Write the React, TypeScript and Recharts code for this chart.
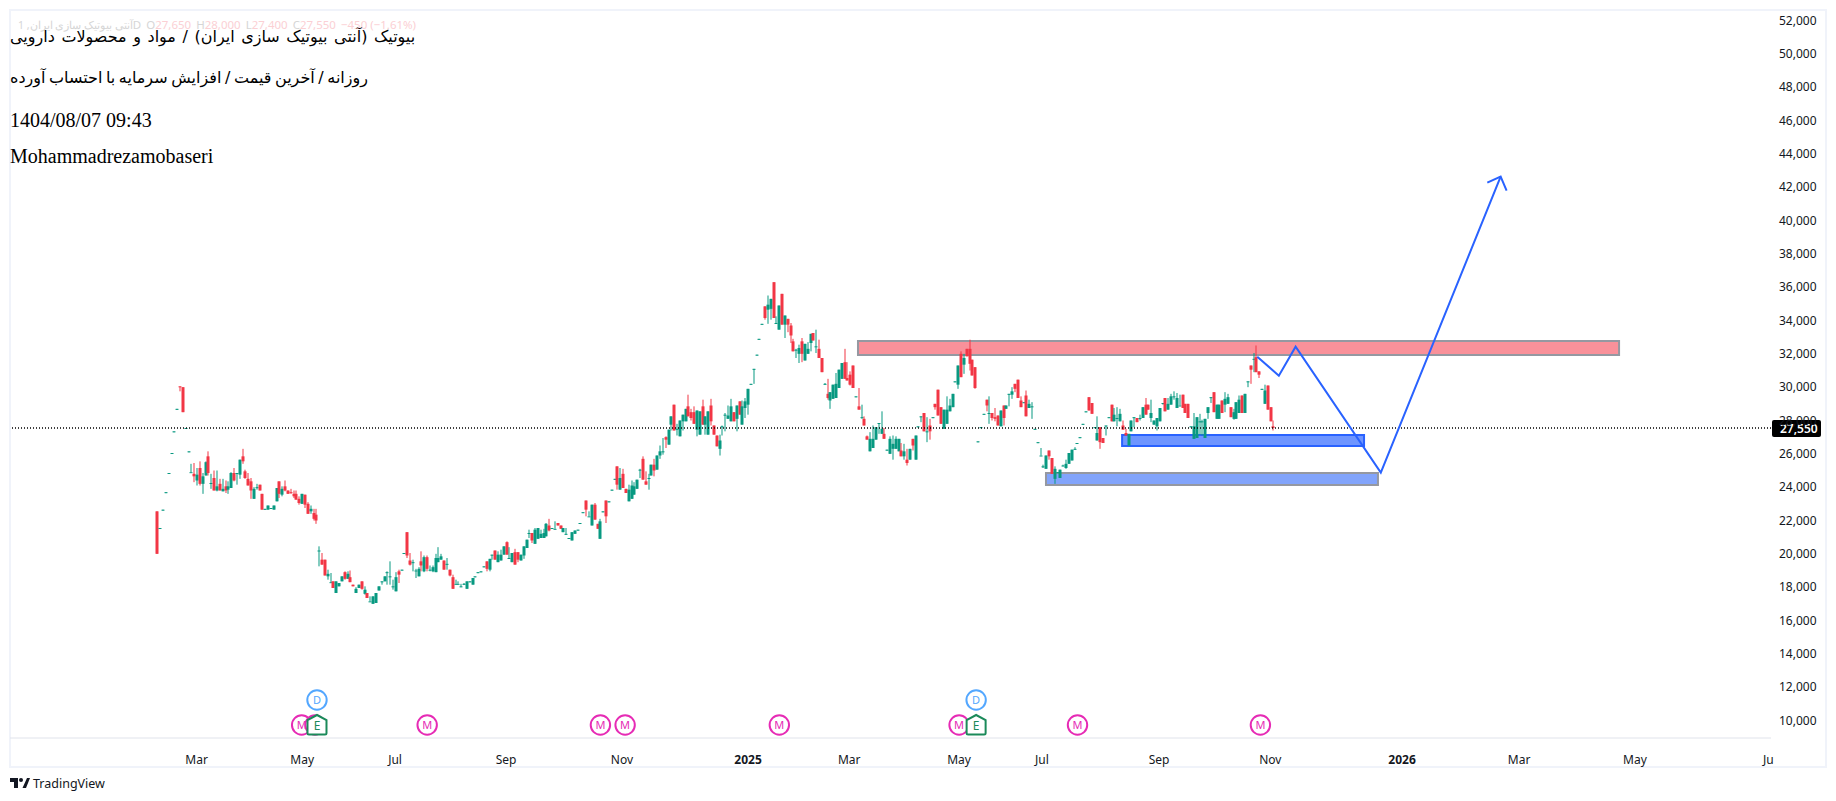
import React from "react";
import {
  ComposedChart,
  Bar,
  Line,
  XAxis,
  YAxis,
  ReferenceArea,
  ReferenceLine,
  ReferenceDot,
} from "recharts";

const opens = [
  22550,21550,22650,23700,24850,26050,27350,28700,30050,30000,
  27550,26150,24900,24800,24400,25150,24200,24700,25850,24250,
  24550,23800,24200,23750,24050,23850,23950,24850,24850,24750,
  25850,24950,24500,24350,23300,24000,24150,23600,22700,22650,
  22750,22650,23150,24350,23550,24050,23800,23700,23600,23600,
  23300,23000,23550,23000,22550,22450,22350,20200,19650,19650,
  18650,18300,18350,17650,18050,18350,18900,18500,18600,18150,
  17650,17950,18350,17600,17650,17150,17000,17050,17800,18350,
  18350,18900,18650,18050,17750,18950,19050,20050,21300,19600,
  19500,19000,18650,19550,18950,19800,19050,18950,18900,19500,
  19650,19600,19400,19050,18600,18200,18200,18050,18200,17900,
  18350,18150,18650,18900,18950,19250,19550,19050,19950,20200,
  19500,19600,19950,20700,19750,19500,20100,20100,19600,19900,
  20350,21250,21250,20600,20900,20950,20950,21050,21700,21550,
  21500,21850,21700,21300,21200,20950,20800,21200,21450,21850,
  22500,23200,22250,21700,22950,21800,20900,22550,23200,23150,
  23850,24500,25250,23850,24800,23900,23150,23300,23550,23900,
  25050,25700,24350,24550,24700,25350,25050,25900,26100,27000,
  26550,27750,28950,27500,27050,27950,27950,28850,28500,28500,
  27450,27150,28850,27750,27150,28900,27700,27100,26300,27650,
  28350,28100,27950,28500,28100,29150,27750,28750,28950,30200,
  31100,31950,32900,33800,34850,34650,34700,36300,33850,33450,
  35600,33750,34100,33700,32750,32250,32000,32750,31600,32000,
  32650,33250,32450,32300,31750,30200,29600,29200,29300,29350,
  29950,30500,31500,30550,30750,31300,29450,28850,28200,28100,
  27050,26150,26350,26850,27850,27200,27200,26250,26000,26300,
  26300,26150,26200,25850,25650,25650,26900,25650,27650,28250,
  28450,27350,27700,28200,29000,29850,28800,27500,27800,28550,
  28800,30350,30150,32000,31350,32300,32300,31650,31200,26750,
  27600,28400,29250,28450,28450,28200,28300,27650,28900,28700,
  29600,29550,30200,30450,29200,29100,29500,28750,28850,27500,
  26700,25900,25250,25100,26200,25750,24500,24900,24550,25300,
  25150,25400,25600,26300,26650,27000,27800,28550,29400,29050,
  27600,26800,27600,26950,27700,28200,28950,27950,28150,27950,
  27700,27250,26500,27350,28200,28150,28150,28150,28950,28950,
  28150,27750,27650,27950,29050,29350,28650,28950,29450,28750,
  28900,29550,29000,29000,27650,26900,26950,27950,27950,26950,
  28450,29400,29700,28100,28100,29200,28950,29000,28800,28100,
  28100,28450,29500,28450,30350,31300,31700,31800,30950,29900,
  29000,30100,28800,27650,
];

const closes = [
  20000,21550,22650,23700,24850,26050,27350,28700,30000,28500,
  27550,26150,24900,24650,24750,24200,24650,25500,24850,24250,
  23800,24050,23800,23900,23800,24050,24850,24400,24850,25650,
  25550,24550,24100,23800,23900,24000,23800,22650,22700,22900,
  22750,22900,23950,23600,23900,23800,23600,23650,23450,23250,
  23050,23600,22950,22400,22700,22100,22000,20200,19350,18700,
  18800,18300,17950,18350,18250,18650,18500,18800,18300,18050,
  17900,18150,17900,17850,17350,17150,17450,17650,18050,18350,
  18650,18900,18650,18050,18600,18750,19050,20050,19900,19350,
  19500,19000,19100,19300,19800,19100,19050,19200,19750,19750,
  19850,19050,19400,18700,17900,18200,18200,18050,18200,18350,
  18350,18550,18650,18900,18950,19250,19100,19700,19950,19650,
  19950,19950,20450,19950,19750,20050,19350,19650,19950,20450,
  20850,21250,20800,21450,21550,21200,21250,21800,21400,21550,
  21500,21700,21500,21550,21200,20950,21300,21400,21450,21850,
  22500,22650,22250,22950,22050,21500,21950,22550,22250,23150,
  23850,24500,24150,24550,23950,23650,23850,24100,24050,24450,
  25050,24450,24150,24550,25350,25000,25900,26150,26150,26850,
  27450,28250,27400,27500,28000,28350,28700,28250,28150,27800,
  28600,28550,27750,28250,28550,27950,27150,26450,26800,27650,
  28350,28300,28850,27950,28900,28350,28850,29150,29900,30200,
  31100,31950,32900,33800,34150,34950,35300,34150,33850,34900,
  33750,34300,33750,33100,32150,32250,32350,32000,32600,32300,
  33200,32800,32450,31750,30900,30200,29350,29700,30150,30200,
  31050,31450,30500,30400,30150,29950,29450,28650,28200,27700,
  26850,26900,26900,27600,27850,27500,26900,26250,26900,26600,
  26900,26900,25850,26150,25450,26300,26500,27100,27650,28250,
  27350,27350,27350,28200,28800,28300,27800,28650,28650,28900,
  29600,30350,31300,30600,31750,31850,31400,30700,29950,26750,
  27600,28400,28900,28450,28150,28100,27700,28600,28150,28900,
  29600,29750,29900,29350,28800,29100,28250,29000,28850,27500,
  26700,25900,25250,25900,25850,24800,25100,24900,25050,25300,
  25400,26050,26250,26300,26650,27000,27800,28550,28600,28400,
  27600,27250,26700,26650,27700,28200,27950,28350,28150,28400,
  27450,27100,27200,28000,28200,27900,28150,28800,28350,28650,
  28450,28000,28150,28750,29050,28550,29000,29450,29450,29350,
  28900,28750,28450,28150,27650,27650,28200,27950,27950,28100,
  28800,29400,28500,28950,28950,28450,29300,29400,28200,28500,
  29100,29250,28450,29600,30350,31050,31700,30900,30750,29900,
  29800,28650,27950,27550,
];

const highs = [
  22550,21550,22650,23700,24850,26050,27350,28700,30050,30000,
  27550,26150,25400,25450,25150,25550,24850,25550,26150,24800,
  25000,25000,24500,24500,24400,24350,24900,25150,24850,25650,
  26300,25050,24850,24550,24000,24200,24150,23600,22700,22900,
  22750,22900,23950,24350,24050,24400,23800,23900,23800,23800,
  23450,23600,23550,23100,22900,22700,22700,20450,20050,19650,
  19050,18850,18350,18350,18250,18650,18950,18950,19000,18150,
  18000,18150,18350,18050,17650,17450,17450,17650,18050,18350,
  18650,18950,19550,18450,18900,19050,19050,20050,21300,20050,
  19650,19100,19200,20150,19900,19900,19300,19300,20000,20400,
  20000,19600,19750,19050,18750,18450,18350,18200,18250,18350,
  18350,18550,18650,18900,18950,19250,19550,19700,19950,20200,
  20150,20250,20450,20750,20400,20050,20300,20100,19950,20450,
  20850,21450,21250,21550,21550,21450,21500,21850,22100,21550,
  21950,21850,21700,21550,21550,20950,21300,21400,21450,21850,
  22500,23200,22550,22950,23050,21800,22100,22550,23200,23150,
  23850,24500,25250,25150,25100,23900,24150,24400,24300,24450,
  25100,25850,24950,24800,25350,25700,25900,26500,26950,27050,
  27450,28250,28950,27800,28000,28350,28700,29550,28700,28850,
  28600,28550,29250,28250,28550,29300,27700,27100,27150,27700,
  28450,28900,29300,28500,28900,29150,29200,29350,29900,30200,
  31100,31950,32900,33800,34850,35500,35300,36300,34250,34900,
  35600,34300,34100,33850,32900,32300,32550,32950,32600,32700,
  33200,33250,33450,32850,31750,30250,30500,29700,30150,30850,
  31050,31450,32300,31500,30950,31300,29450,29950,28950,28250,
  27100,27300,27700,27600,27850,28550,27550,26250,27050,27100,
  27050,26900,26650,26600,26300,26300,26900,27100,27650,28250,
  28450,28200,28100,28200,29000,29850,28800,28650,29450,29300,
  29600,30350,31300,32150,32000,32300,32850,31650,31200,26750,
  27600,28400,29250,29450,28450,28750,28300,28600,28900,28900,
  29600,30000,30200,30450,29450,29100,29800,29250,29100,27500,
  26700,26350,25350,25900,26200,25750,25250,24900,25050,25350,
  25650,26050,26250,26400,26650,27000,27800,28550,29400,29050,
  27600,28250,27600,26950,27700,28200,28950,28750,28800,28700,
  28000,27500,27200,28000,28200,28150,28350,28800,29350,28950,
  29250,28000,28150,28750,29050,29350,29350,29600,29750,29650,
  29550,29550,29000,29000,27650,28450,28200,28400,28050,28100,
  28800,29400,29700,28950,28950,29200,29700,29600,28800,28700,
  29100,29500,29500,29600,30350,31300,32050,32500,30950,29900,
  30150,30100,28800,28000,
];

const lows = [
  20000,21550,22650,23700,24850,26050,27350,28700,29750,28500,
  27550,26150,24900,24300,24100,24100,23600,24700,24700,23900,
  23800,23750,23800,23750,23650,23600,23950,24350,24150,24500,
  25400,24500,24100,23300,23300,23850,23800,22650,22700,22650,
  22750,22650,23150,23350,23450,23750,23600,23600,23350,23250,
  22950,23000,22750,22400,22400,22000,21800,19250,19350,18700,
  18450,18300,17950,17650,18050,18350,18450,18500,18300,18050,
  17650,17950,17850,17550,17350,17150,17000,17050,17800,18150,
  18350,18150,18150,17850,17750,18250,19050,20050,19750,19300,
  18950,18550,18650,18950,18900,18950,18950,18900,18900,19500,
  19650,19050,19050,18650,17900,18200,18200,18000,18150,17900,
  18350,18150,18650,18900,18950,19250,18950,18950,19650,19650,
  19500,19600,19950,19950,19700,19500,19350,19500,19600,19700,
  20350,20950,20650,20600,20900,20950,20950,21050,21350,21550,
  21500,21700,21500,21300,21150,20950,20800,21200,21450,21850,
  22500,22250,22250,21700,22050,21500,20900,22550,21850,23150,
  23850,24500,23850,23850,23950,23650,23150,23300,23550,23900,
  24550,24450,24150,23850,24700,24650,25050,25700,25950,26350,
  26550,27400,27400,27100,27050,27400,27950,28250,28000,27800,
  27050,27150,27750,27150,27150,27700,27150,26450,25900,27100,
  27350,28100,27950,27950,27350,28350,27750,28150,28350,30200,
  30200,31950,32900,33800,34050,33800,34050,34150,33800,33450,
  33750,32950,33300,32650,32150,31750,31450,31500,31600,32000,
  32150,32800,32050,31750,30900,30150,29250,28700,29300,29350,
  29950,30500,30500,30400,30100,29950,29450,28650,28100,27700,
  26850,26150,26350,26850,27200,27200,26900,26250,26000,25650,
  26300,26150,25850,25650,25300,25650,26200,25650,27650,27900,
  27350,26700,26850,28200,28650,28300,27800,27500,27800,28550,
  28800,30350,29900,30600,30800,31850,31000,30700,29900,26750,
  27600,28400,28550,27800,28000,27950,27700,27650,27700,28700,
  28850,29300,29700,29350,28800,29100,28250,28750,28100,27500,
  26700,25900,25150,25100,25650,24800,24200,24900,24550,25250,
  25100,25400,25600,26250,26650,27000,27800,28550,28600,28400,
  27600,26800,26300,26650,27100,28200,27950,27950,27650,27950,
  27450,27100,26500,27350,27600,27900,28000,28150,28350,28650,
  27900,27750,27400,27950,28950,28550,28650,28950,29250,28750,
  28900,28750,28450,28150,27650,26900,26950,27150,27100,26950,
  28100,29050,28500,28100,28100,28450,28500,29000,28200,28050,
  28100,28450,28450,28450,30000,30200,30900,30900,30550,29900,
  29000,28650,27950,27400,
];

const priceTicks = [
  10000, 12000, 14000, 16000, 18000, 20000, 22000, 24000, 26000, 28000, 30000,
  32000, 34000, 36000, 38000, 40000, 42000, 44000, 46000, 48000, 50000, 52000,
];
const monthTicks = [13.8, 51, 83.7, 122.8, 163.6, 208, 243.6, 282.3, 311.5, 352.7, 391.9, 438.3, 479.5, 520.3, 567.3];
const monthNames = ["Mar", "May", "Jul", "Sep", "Nov", "2025", "Mar", "May", "Jul", "Sep", "Nov", "2026", "Mar", "May", "Ju"];

const lastPrice = 27550;

// drawn zones: [left bar, right bar, low, high]
const resistanceZone = [246.7, 514.7, 31930, 32770];
const supportZone = [339.7, 424.9, 26470, 27130];
const lowerZone = [312.9, 429.8, 24130, 24850];

const forecastBars = [387.3, 394.9, 400.8, 430.8, 473];
const forecastPrices = [31830, 30690, 32430, 24870, 42630];
const arrowBars = [468.3, 473, 475.1];
const arrowPrices = [42270, 42630, 41790];

const mEvents = [50.8, 55.5, 95, 156, 164.7, 219, 282.3, 324, 388.4];
const dEvents = [56.2, 288.3];
const eEvents = [56.2, 288.3];

const candles = opens.map((o, i) => ({
  i,
  o,
  h: highs[i],
  l: lows[i],
  c: closes[i],
  range: [lows[i], highs[i]],
}));
const forecast = forecastBars.map((i, n) => ({ i, path: forecastPrices[n] }));
const arrow = arrowBars.map((i, n) => ({ i, head: arrowPrices[n] }));

const UP = "#089981";
const DOWN = "#f23645";
const BLUE = "#2962ff";
const GRAY = "#9598a1";
const INK = "#131722";
const FONT = "'Noto Sans', sans-serif";

const Candle = (props: any) => {
  const { x, y, width, height, payload } = props;
  const { o, h, l, c } = payload;
  const color = c > o ? UP : c < o ? DOWN : payload.doji || UP;
  const k = h > l ? Math.abs(height) / (h - l) : 0;
  const top = y + (h - Math.max(o, c)) * k;
  const bodyH = Math.max(Math.abs(o - c) * k, 1);
  const mid = Math.round(x + width / 2);
  return (
    <g>
      <rect x={mid - 0.5} y={y} width={1} height={Math.max(Math.abs(height), 1)} fill={color} />
      <rect x={mid - 1.5} y={top} width={3} height={bodyH} fill={color} />
    </g>
  );
};

const MonthTick = ({ x, y, payload, index }: any) => {
  const bold = monthNames[index] === "2025" || monthNames[index] === "2026";
  return (
    <text
      x={x}
      y={y}
      dy={18}
      textAnchor="middle"
      fontFamily={FONT}
      fontSize={12}
      fontWeight={bold ? 700 : 400}
      fill={INK}
    >
      {monthNames[index]}
    </text>
  );
};

const PriceTag = ({ viewBox }: any) => {
  const y = viewBox.y;
  return (
    <g>
      <rect x={1772} y={y - 8} width={49} height={17} rx={2} fill="#000" />
      <text x={1780} y={y + 4.5} fontFamily={FONT} fontSize={12} fontWeight={600} fill="#fff">
        {lastPrice.toLocaleString("en-US")}
      </text>
    </g>
  );
};

const Bubble = ({ cx, cy, color, letter }: any) => (
  <g>
    <circle cx={cx} cy={cy} r={9.7} fill="#fff" stroke={color} strokeWidth={2} />
    <text x={cx} y={cy + 4} textAnchor="middle" fontFamily={FONT} fontSize={11} fill={color}>
      {letter}
    </text>
  </g>
);

const Earnings = ({ cx, cy }: any) => (
  <g>
    <path
      d={`M${cx} ${cy - 10} L${cx + 9.5} ${cy - 5} V${cy + 8} Q${cx + 9.5} ${cy + 9.5} ${cx + 8} ${cy + 9.5} H${cx - 8} Q${cx - 9.5} ${cy + 9.5} ${cx - 9.5} ${cy + 8} V${cy - 5} Z`}
      fill="#fff"
      stroke="#1b8a5a"
      strokeWidth={2}
    />
    <text x={cx} y={cy + 5} textAnchor="middle" fontFamily={FONT} fontSize={12} fill="#1b8a5a">
      E
    </text>
  </g>
);

const Zone = (zone: number[], fill: string, stroke: string) => (
  <ReferenceArea
    x1={zone[0]}
    x2={zone[1]}
    y1={zone[2]}
    y2={zone[3]}
    fill={fill}
    fillOpacity={1}
    stroke={stroke}
    strokeWidth={2}
  />
);

const headline = { position: "absolute", left: 10, whiteSpace: "nowrap", color: "#000", fontFamily: "'Liberation Serif', serif", fontSize: 20 } as const;
const persian = { ...headline, fontFamily: "'DejaVu Sans', sans-serif", fontSize: 16 } as const;

export default function App() {
  return (
    <div style={{ position: "absolute", left: 0, top: 0, width: 1836, height: 801, background: "#fff", overflow: "hidden" }}>
      <div style={{ position: "absolute", left: 9, top: 9, width: 1814, height: 755, border: "2px solid #f0f3fa" }} />
      <ComposedChart
        width={1836}
        height={801}
        data={candles}
        margin={{ top: 10, right: 11, bottom: 35, left: 10 }}
        style={{ position: "absolute", left: 0, top: 0 }}
      >
        <XAxis
          dataKey="i"
          type="number"
          domain={[-51.9, 568.2]}
          allowDataOverflow
          ticks={monthTicks}
          interval={0}
          height={28}
          tick={<MonthTick />}
          tickLine={false}
          axisLine={{ stroke: "#e0e3eb" }}
        />
        <YAxis
          orientation="right"
          type="number"
          domain={[8950, 52630]}
          allowDataOverflow
          ticks={priceTicks}
          interval={0}
          width={54}
          tickMargin={2}
          tickLine={false}
          axisLine={false}
          tick={{ fontFamily: FONT, fontSize: 12, fill: INK }}
          tickFormatter={(v) => v.toLocaleString("en-US")}
        />
        {Zone(resistanceZone, "#f9919a", GRAY)}
        {Zone(supportZone, "#6e95ff", BLUE)}
        {Zone(lowerZone, "#82a4fb", GRAY)}
        <ReferenceLine y={lastPrice} stroke="#000" strokeWidth={1.5} strokeDasharray="1 2" label={<PriceTag />} />
        <Bar dataKey="range" barSize={3} shape={<Candle />} isAnimationActive={false} />
        <Line data={forecast} dataKey="path" stroke={BLUE} strokeWidth={2} dot={false} isAnimationActive={false} />
        <Line data={arrow} dataKey="head" stroke={BLUE} strokeWidth={2} dot={false} isAnimationActive={false} />
        {mEvents.map((i) => (
          <ReferenceDot key={`m${i}`} x={i} y={9730} shape={(p: any) => <Bubble {...p} color="#e62bb5" letter="M" />} />
        ))}
        {dEvents.map((i) => (
          <ReferenceDot key={`d${i}`} x={i} y={11230} shape={(p: any) => <Bubble {...p} color="#53a7ff" letter="D" />} />
        ))}
        {eEvents.map((i) => (
          <ReferenceDot key={`e${i}`} x={i} y={9730} shape={(p: any) => <Earnings {...p} />} />
        ))}
      </ComposedChart>

      <div style={{ position: "absolute", left: 18, top: 17, fontFamily: FONT, fontSize: 11.5, whiteSpace: "nowrap", color: "#d6d6d6" }}>
        <span dir="rtl" style={{ fontSize: 10.5 }}>آنتی بیوتیک سازی ایران, 1</span>D
        <span style={{ color: "#d6d6d6", marginLeft: 5 }}>O</span><span style={{ color: "#fbd0d4" }}>27,650</span>
        <span style={{ marginLeft: 5 }}>H</span><span style={{ color: "#fbd0d4" }}>28,000</span>
        <span style={{ marginLeft: 5 }}>L</span><span style={{ color: "#fbd0d4" }}>27,400</span>
        <span style={{ marginLeft: 5 }}>C</span><span style={{ color: "#fbd0d4" }}>27,550</span>
        <span style={{ color: "#fbd0d4", marginLeft: 5 }}>−450 (−1.61%)</span>
      </div>
      <div dir="rtl" style={{ ...persian, top: 27, wordSpacing: 1.5 }}>بیوتیک (آنتی بیوتیک سازی ایران) / مواد و محصولات دارویی</div>
      <div dir="rtl" style={{ ...persian, top: 68, wordSpacing: -1.5 }}>روزانه / آخرین قیمت / افزایش سرمایه با احتساب آورده</div>
      <div style={{ ...headline, top: 109 }}>1404/08/07 09:43</div>
      <div style={{ ...headline, top: 145 }}>Mohammadrezamobaseri</div>

      <svg style={{ position: "absolute", left: 10, top: 776 }} width={20} height={14}>
        <path d="M0 2h8v10H4V6H0z M17 2h3l-4 10h-3.5z" fill={INK} />
        <circle cx={11} cy={4} r={2} fill={INK} />
      </svg>
      <div style={{ position: "absolute", left: 33, top: 775, fontFamily: FONT, fontSize: 12.5, color: INK }}>TradingView</div>
    </div>
  );
}
